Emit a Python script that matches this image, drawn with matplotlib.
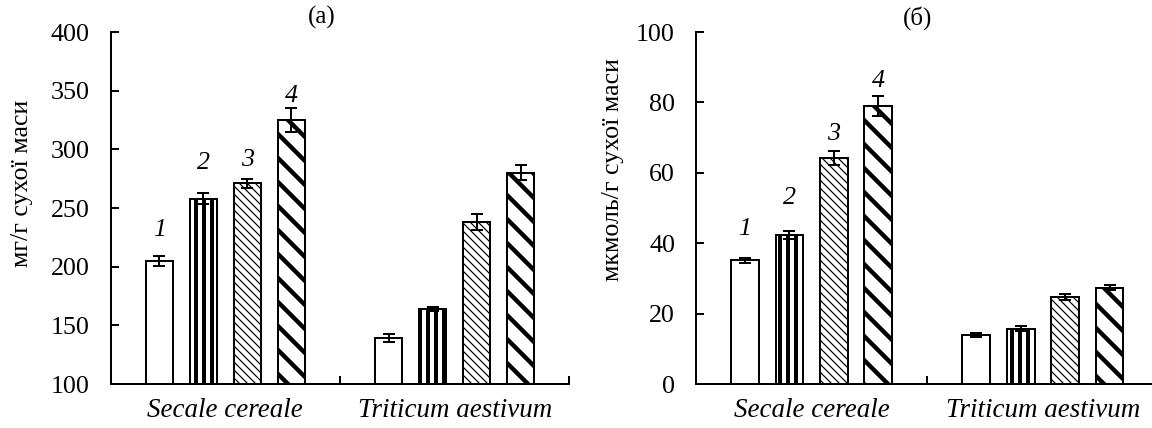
import numpy as np
import matplotlib.pyplot as plt

plt.rcParams['font.family'] = ['Liberation Serif', 'DejaVu Serif']

# data
species = ['Secale cereale', 'Triticum aestivum']
variants = ['1', '2', '3', '4']

# (a) mg/g dry mass
a_secale = [205, 258, 271, 325]
a_secale_err = [4.5, 5, 4, 10]
a_triticum = [139, 164, 238, 280]
a_triticum_err = [3.5, 2, 6.5, 6.5]

# (б) umol/g dry mass
b_secale = [35.1, 42.4, 64.2, 78.9]
b_secale_err = [0.7, 1.2, 2.0, 2.8]
b_triticum = [13.9, 15.7, 24.8, 27.4]
b_triticum_err = [0.5, 0.7, 0.8, 0.6]

# look
hatches = ['', '|||', '\\\\\\\\\\\\', '\\\\']
hatch_lw = [1.0, 2.0, 0.6, 2.2]
offsets = [-0.288, -0.096, 0.096, 0.288]
bar_w = 0.12
num_pad_a = [13, 15, 9.5, 6]   # points above error bar
num_pad_b = [14.5, 16.5, 8.5, 7.5]

fig = plt.figure(figsize=(8, 428 / 144), dpi=144)
ax1 = fig.add_axes([0.0961, 0.1028, 0.3981, 0.8224])
ax2 = fig.add_axes([0.6042, 0.1028, 0.4015, 0.8224])


def panel(ax, sec, sec_err, tri, tri_err, ylim, yticks, ylabel, ylab_y, title, title_x, num_pad):
    x = np.arange(len(species))
    for i in range(len(variants)):
        vals = [sec[i], tri[i]]
        errs = [sec_err[i], tri_err[i]]
        plt.rcParams['hatch.linewidth'] = hatch_lw[i]
        bars = ax.bar(x + offsets[i], vals, bar_w, color='white', edgecolor='black',
                      linewidth=1.0, hatch=hatches[i], zorder=2)
        for b in bars:
            if hasattr(b, 'set_hatch_linewidth'):
                b.set_hatch_linewidth(hatch_lw[i])
        ax.errorbar(x + offsets[i], vals, yerr=errs, fmt='none', ecolor='black',
                    elinewidth=1.0, capsize=3.2, capthick=1.0, zorder=3)
        ax.annotate(variants[i], (x[0] + offsets[i], sec[i] + sec_err[i]),
                    xytext=(0, num_pad[i]), textcoords='offset points',
                    ha='center', va='center', fontsize=13, style='italic')

    ax.set_xlim(-0.5, 1.5)
    ax.set_ylim(*ylim)
    ax.set_yticks(yticks)
    ax.set_xticks([0.5, 1.5])
    ax.set_xticks(x, minor=True)
    ax.set_xticklabels([])
    ax.set_xticklabels(species, minor=True, fontsize=13.5, style='italic')
    ax.tick_params(axis='x', which='major', direction='in', length=4, width=1)
    ax.tick_params(axis='x', which='minor', length=0, pad=7)
    ax.tick_params(axis='y', direction='in', length=4, width=1, labelsize=13, pad=10.5)
    for s in ['top', 'right']:
        ax.spines[s].set_visible(False)
    for s in ['left', 'bottom']:
        ax.spines[s].set_linewidth(1.0)
    ax.set_ylabel(ylabel, fontsize=13)
    ax.yaxis.set_label_coords(0, ylab_y)
    ax.text(title_x, 1.04, title, transform=ax.transAxes, ha='center', va='center', fontsize=12.5)


panel(ax1, a_secale, a_secale_err, a_triticum, a_triticum_err, (100, 400),
      np.arange(100, 401, 50), 'мг/г сухої маси', 0.57, '(a)', 0.461, num_pad_a)
panel(ax2, b_secale, b_secale_err, b_triticum, b_triticum_err, (0, 100),
      np.arange(0, 101, 20), 'мкмоль/г сухої маси', 0.608, '(б)', 0.48, num_pad_b)

fig.canvas.draw()
for ax, xpix in [(ax1, 22), (ax2, 613)]:
    xa = ax.transAxes.inverted().transform((xpix, 0))[0]
    ax.yaxis.label.set_position((xa, ax.yaxis.label.get_position()[1]))
    ax.yaxis.label.set_horizontalalignment('center')
    ax.yaxis.label.set_verticalalignment('center')

plt.savefig('out.png', dpi=144)
